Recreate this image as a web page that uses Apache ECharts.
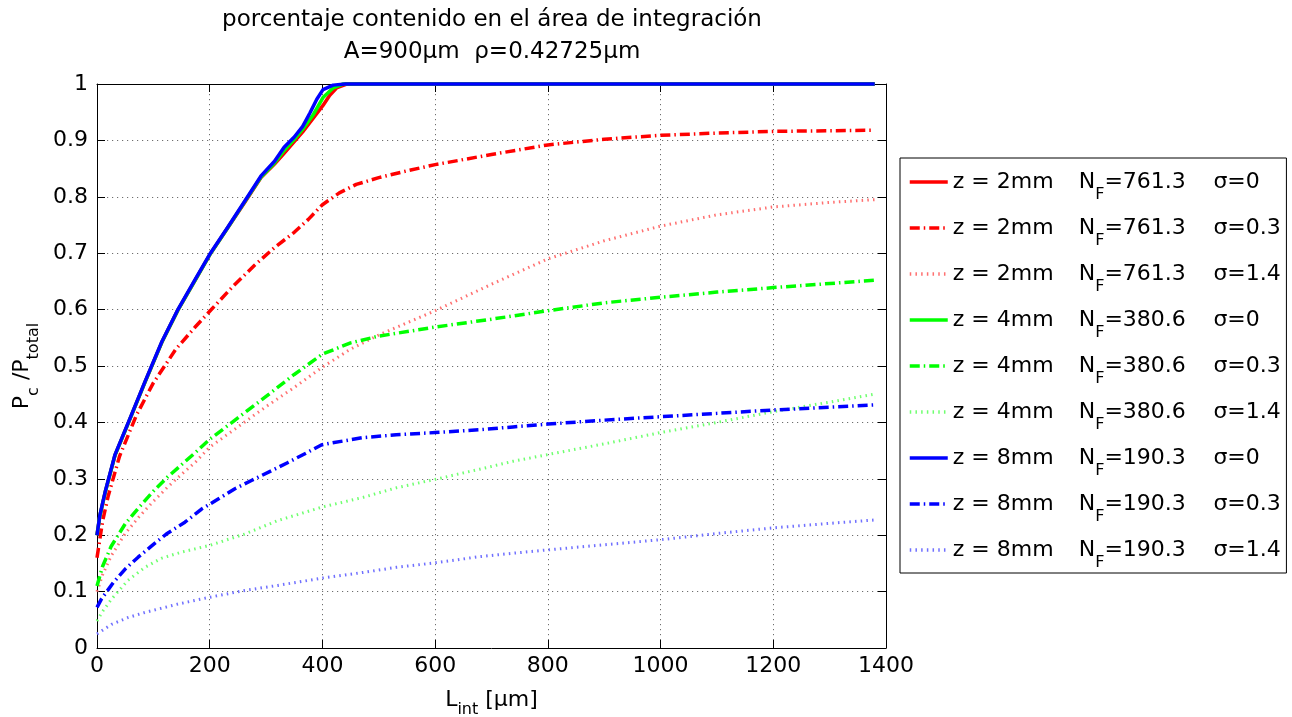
<!DOCTYPE html>
<html>
<head>
<meta charset="utf-8">
<script src="https://cdn.jsdelivr.net/npm/echarts@6/dist/echarts.min.js"></script>
<style>
  html, body { margin: 0; padding: 0; background: #ffffff; }
  #chart { width: 1292px; height: 717px; }
</style>
</head>
<body>
<div id="chart"></div>
<script>
// Legend fields for each curve: distance z, Fresnel number N_F, roughness sigma
const zLabels = ['2mm', '4mm', '8mm'];
const nfLabels = ['761.3', '380.6', '190.3'];
const sigmaLabels = ['0', '0.3', '1.4'];

// Power fraction P_c/P_total versus integration length L_int [um]
const z2_s0 = [[0,0.200],[5,0.234],[15,0.278],[32,0.342],[56,0.400],[85,0.471],[115,0.542],[144,0.600],[174,0.652],[200,0.697],[232,0.745],[262,0.790],[291,0.834],[315,0.858],[332,0.877],[350,0.898],[365,0.915],[384,0.940],[401,0.962],[413,0.980],[425,0.993],[443,1.000],[1380,1.000]];
const z2_s03 = [[0,0.160],[10,0.225],[20,0.270],[40,0.340],[70,0.413],[100,0.470],[140,0.530],[175,0.570],[200,0.597],[240,0.640],[280,0.679],[315,0.710],[350,0.737],[375,0.760],[400,0.786],[430,0.807],[460,0.822],[500,0.834],[550,0.846],[600,0.857],[700,0.875],[800,0.892],[900,0.902],[1000,0.909],[1100,0.913],[1200,0.916],[1380,0.918]];
const z2_s14 = [[0,0.100],[10,0.130],[25,0.163],[50,0.203],[75,0.233],[100,0.260],[125,0.285],[150,0.308],[175,0.330],[200,0.356],[250,0.392],[300,0.428],[350,0.462],[400,0.498],[450,0.530],[500,0.555],[600,0.598],[700,0.645],[800,0.690],[900,0.722],[1000,0.748],[1100,0.768],[1200,0.782],[1300,0.790],[1380,0.795]];
const z4_s0 = [[0,0.200],[5,0.234],[15,0.278],[32,0.342],[56,0.400],[85,0.471],[115,0.542],[144,0.600],[174,0.652],[200,0.697],[232,0.745],[262,0.791],[291,0.835],[315,0.860],[332,0.882],[350,0.902],[365,0.920],[384,0.946],[401,0.976],[419,0.993],[437,1.000],[1380,1.000]];
const z4_s03 = [[0,0.110],[10,0.145],[25,0.180],[50,0.220],[75,0.250],[100,0.278],[125,0.303],[150,0.325],[175,0.347],[200,0.370],[250,0.408],[300,0.446],[350,0.485],[400,0.521],[450,0.541],[500,0.553],[600,0.569],[700,0.583],[800,0.598],[900,0.612],[1000,0.622],[1100,0.631],[1200,0.639],[1380,0.652]];
const z4_s14 = [[0,0.048],[10,0.065],[26,0.087],[55,0.120],[85,0.143],[114,0.159],[150,0.170],[200,0.182],[262,0.202],[321,0.226],[400,0.250],[472,0.267],[531,0.284],[600,0.299],[679,0.317],[738,0.331],[800,0.343],[900,0.362],[1000,0.382],[1100,0.400],[1200,0.419],[1300,0.436],[1380,0.450]];
const z8_s0 = [[0,0.200],[5,0.235],[15,0.279],[32,0.343],[56,0.401],[85,0.472],[115,0.543],[144,0.601],[174,0.653],[200,0.698],[232,0.746],[262,0.792],[291,0.837],[315,0.863],[332,0.888],[350,0.906],[365,0.925],[378,0.949],[390,0.973],[401,0.990],[419,0.998],[440,1.000],[1380,1.000]];
const z8_s03 = [[0,0.072],[8,0.087],[29,0.116],[50,0.140],[73,0.161],[97,0.181],[123,0.202],[156,0.223],[185,0.246],[215,0.264],[244,0.282],[274,0.297],[309,0.314],[339,0.329],[368,0.344],[398,0.360],[413,0.363],[472,0.373],[531,0.378],[600,0.382],[679,0.387],[738,0.392],[800,0.397],[900,0.404],[1000,0.410],[1100,0.416],[1200,0.422],[1380,0.431]];
const z8_s14 = [[0,0.025],[26,0.042],[55,0.054],[85,0.063],[144,0.078],[200,0.090],[262,0.102],[321,0.111],[400,0.124],[472,0.134],[531,0.143],[600,0.151],[679,0.162],[738,0.168],[800,0.174],[900,0.183],[1000,0.192],[1100,0.203],[1200,0.213],[1300,0.221],[1380,0.227]];

const curves = [
  [z2_s0, z2_s03, z2_s14],
  [z4_s0, z4_s03, z4_s14],
  [z8_s0, z8_s03, z8_s14]
];

// Styling: one colour family per distance, one dash pattern per sigma
const FONT = '"DejaVu Sans", sans-serif';
const strongColors = ['#ff0000', '#00ff00', '#0000ff'];
const lightColors = ['#ff7070', '#70ff70', '#7070ff'];
const dashBySigma = ['solid', [10, 4, 1.5, 4], [1.5, 4.2]];
const widthBySigma = [3.5, 3.5, 3];

const series = [];
const legendNames = [];
zLabels.forEach((z, zi) => {
  sigmaLabels.forEach((s, si) => {
    const name = z + '|' + nfLabels[zi] + '|' + s;
    const color = si === 2 ? lightColors[zi] : strongColors[zi];
    legendNames.push(name);
    series.push({
      name: name,
      type: 'line',
      data: curves[zi][si],
      symbol: 'none',
      smooth: false,
      clip: false,
      lineStyle: { color: color, width: widthBySigma[si], type: dashBySigma[si], cap: 'butt', join: 'round' },
      itemStyle: { color: color },
      emphasis: { disabled: true },
      silent: true
    });
  });
});

const gridStyle = { show: true, lineStyle: { color: '#6e6e6e', width: 1, type: [1.2, 3.8] } };
const axisLine = { show: true, onZero: false, lineStyle: { color: '#000', width: 1 } };
const tickIn = { show: true, inside: true, length: 8, lineStyle: { color: '#000' } };
const labelFont = { color: '#000', fontFamily: FONT, fontSize: 22, formatter: v => String(v) };

const chart = echarts.init(document.getElementById('chart'), null, { renderer: 'canvas' });
chart.setOption({
  animation: false,
  backgroundColor: '#ffffff',
  graphic: [{
    type: 'text',
    x: 492, y: 4,
    style: {
      text: 'porcentaje contenido en el área de integración\nA=900μm  ρ=0.42725μm',
      font: '23px ' + FONT,
      fill: '#000',
      align: 'center',
      verticalAlign: 'top',
      lineHeight: 32
    }
  }],
  grid: { left: 97, right: 406, top: 84, bottom: 69, containLabel: false, outerBoundsMode: 'none' },
  legend: {
    data: legendNames,
    orient: 'vertical',
    left: 900, top: 158,
    padding: [3, 1, 2, 8],
    itemGap: 4,
    itemWidth: 38,
    itemHeight: 14,
    itemTextGap: 4,
    backgroundColor: '#ffffff',
    borderColor: '#000',
    borderWidth: 1,
    borderRadius: 0,
    selectedMode: false,
    lineStyle: { width: 3.5 },
    itemStyle: { opacity: 0 },
    formatter: function (name) {
      const p = name.split('|');
      return '{a|z = ' + p[0] + '}{n|N}{f|F}{v|=' + p[1] + '}{s|σ=' + p[2] + '}';
    },
    textStyle: {
      color: '#000', fontFamily: FONT, fontSize: 22,
      rich: {
        a: { fontFamily: FONT, fontSize: 22, width: 126, lineHeight: 30 },
        n: { fontFamily: FONT, fontSize: 22, lineHeight: 30 },
        f: { fontFamily: FONT, fontSize: 16, lineHeight: 30, padding: [26, 0, 0, 0] },
        v: { fontFamily: FONT, fontSize: 22, width: 109, lineHeight: 30 },
        s: { fontFamily: FONT, fontSize: 22, width: 72, lineHeight: 30 }
      }
    }
  },
  xAxis: [{
    type: 'value', position: 'bottom', min: 0, max: 1400, interval: 200,
    axisLine: axisLine, axisTick: tickIn, splitLine: gridStyle,
    axisLabel: Object.assign({ margin: 7 }, labelFont),
    name: '{m|L}{s|int}{m| [μm]}',
    nameLocation: 'middle', nameGap: 25,
    nameTextStyle: {
      color: '#000', fontFamily: FONT, fontSize: 22,
      rich: {
        m: { fontFamily: FONT, fontSize: 22, lineHeight: 30 },
        s: { fontFamily: FONT, fontSize: 16, lineHeight: 30, padding: [20, 0, 0, 0] }
      }
    }
  }, {
    type: 'value', position: 'top', min: 0, max: 1400, interval: 200,
    axisLine: axisLine, axisTick: tickIn, axisLabel: { show: false }, splitLine: { show: false }
  }],
  yAxis: [{
    type: 'value', position: 'left', min: 0, max: 1, interval: 0.1,
    axisLine: axisLine, axisTick: tickIn, splitLine: gridStyle,
    axisLabel: Object.assign({ margin: 9 }, labelFont),
    name: '{m|P}{s|c}{m| /P}{s|total}',
    nameLocation: 'middle', nameRotate: 90, nameGap: 56,
    nameTextStyle: {
      color: '#000', fontFamily: FONT, fontSize: 22,
      rich: {
        m: { fontFamily: FONT, fontSize: 22, lineHeight: 30 },
        s: { fontFamily: FONT, fontSize: 16, lineHeight: 30, padding: [24, 0, 0, 0] }
      }
    }
  }, {
    type: 'value', position: 'right', min: 0, max: 1, interval: 0.1,
    axisLine: axisLine, axisTick: tickIn, axisLabel: { show: false }, splitLine: { show: false }
  }],
  series: series
});
</script>
</body>
</html>
